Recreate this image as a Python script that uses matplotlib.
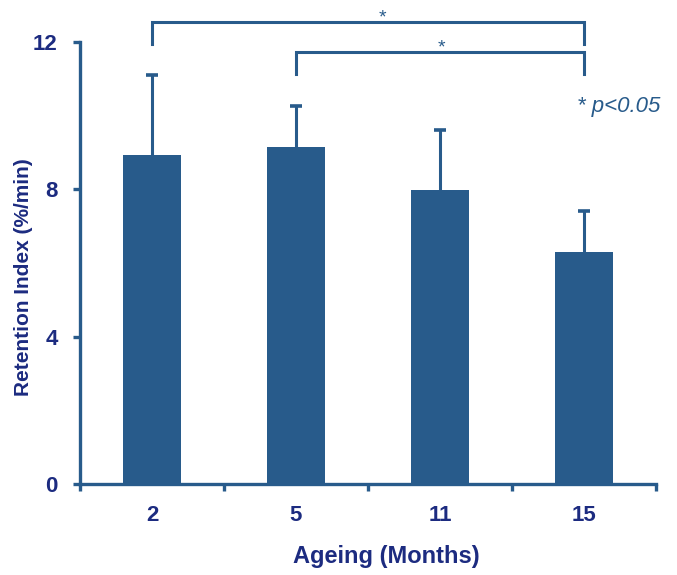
import numpy as np
import matplotlib
matplotlib.use("Agg")
import matplotlib.pyplot as plt

ages = ["2", "5", "11", "15"]
retention = [8.92, 9.16, 7.99, 6.29]
err_up = [2.19, 1.11, 1.63, 1.11]

# significance brackets: (left bar, right bar, top y, drop y, star x)
brackets = [(0, 3, 12.53, 11.95, 1.60), (1, 3, 11.72, 11.12, 2.01)]

bar_col = "#285b8b"
txt_col = "#1c2b80"

plt.rcParams['font.family'] = ['Liberation Sans', 'DejaVu Sans']

fig = plt.figure(figsize=(6.77, 5.75), dpi=100)
ax = fig.add_axes([80/677, 91/575, 576/677, 442/575])

xpos = np.arange(len(ages))
ax.bar(xpos, retention, width=0.4, color=bar_col, zorder=2)
# upward error bars only
tops = np.array(retention) + np.array(err_up)
ax.vlines(xpos, retention, tops, color=bar_col, lw=2.2, zorder=1)
ax.hlines(tops, xpos - 0.042, xpos + 0.042, color=bar_col, lw=2.6, zorder=1)

ax.set_xlim(-0.5, len(ages) - 0.5)
ax.set_ylim(0, 12)
ax.set_yticks([0, 4, 8, 12])
ax.set_xticks(xpos)
ax.set_xticklabels(ages)
ax.set_xticks(np.arange(-0.5, len(ages)), minor=True)

for s in ["top", "right"]:
    ax.spines[s].set_visible(False)
for s in ["left", "bottom"]:
    ax.spines[s].set_color(bar_col)
    ax.spines[s].set_linewidth(2.4)

ax.tick_params(axis="y", direction="out", length=5, width=2.4, color=bar_col,
               pad=11, labelsize=16, labelcolor=txt_col)
ax.tick_params(axis="x", which="major", length=0, pad=15, labelsize=16, labelcolor=txt_col)
ax.tick_params(axis="x", which="minor", direction="out", length=5, width=2.4, color=bar_col)
for lab in ax.get_xticklabels() + ax.get_yticklabels():
    lab.set_fontweight("bold")

for (i, j, top, drop, sx) in brackets:
    ax.plot([i, i, j, j], [drop, top, top, drop], color=bar_col, lw=2.2,
            clip_on=False, solid_joinstyle="miter")
    ax.text(sx, top - 0.01, "*", ha="center", va="baseline",
            fontsize=14, color=bar_col)

ax.text(3.24, 10.25, "* p<0.05", ha="center", va="center", fontsize=16,
        color=bar_col, style="italic")

fig.text(24/677, 1 - 277/575, "Retention Index (%/min)", rotation=90, ha="center",
         va="center", fontsize=15, fontweight="bold", color=txt_col)
fig.text(386/677, 1 - 557/575, "Ageing (Months)", ha="center", va="center",
         fontsize=17, fontweight="bold", color=txt_col)

fig.savefig("out.png", dpi=100)
